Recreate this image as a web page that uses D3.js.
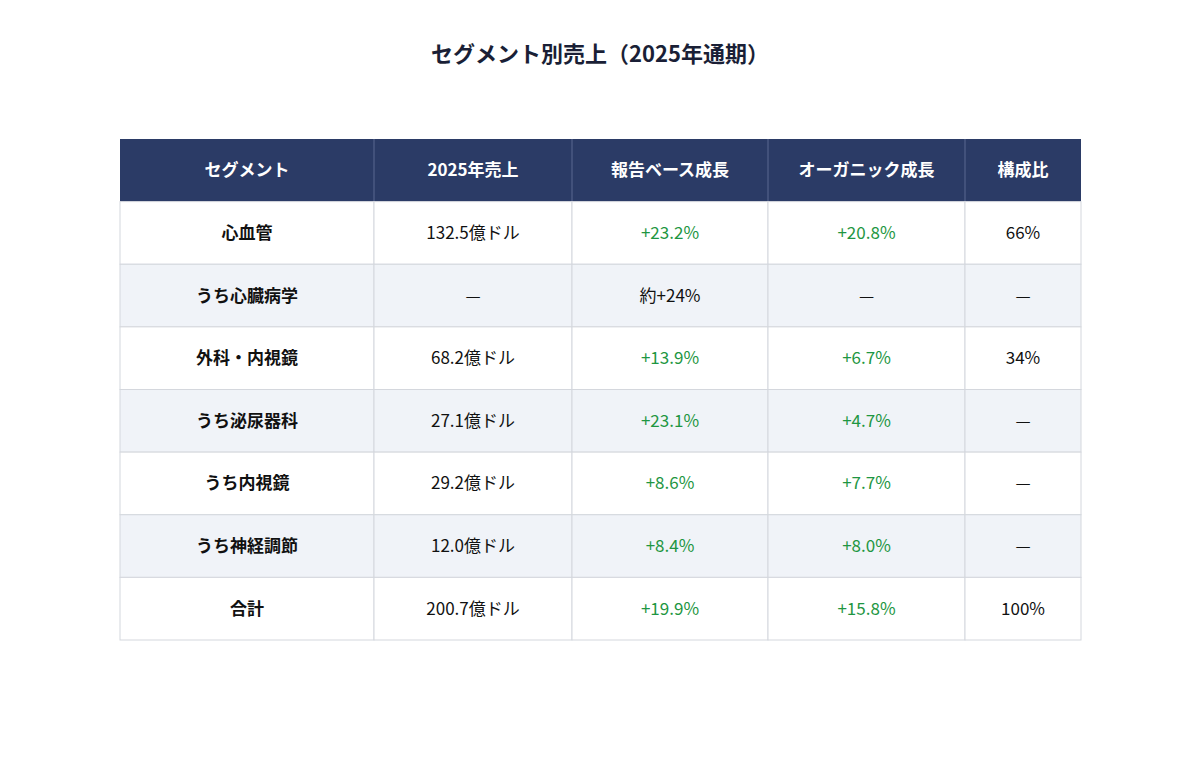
<!DOCTYPE html>
<html><head><meta charset="utf-8">
<script src="https://cdn.jsdelivr.net/npm/d3@7.9.0/dist/d3.min.js"></script>
<style>body{margin:0;background:#fff;font-family:"Noto Sans CJK JP","Noto Sans",sans-serif;}</style>
</head><body>
<svg id="chart" width="1200" height="779"></svg>
<script>
const headers = ['セグメント', '2025年売上', '報告ベース成長', 'オーガニック成長', '構成比'];
const segments = ['心血管', 'うち心臓病学', '外科・内視鏡', 'うち泌尿器科', 'うち内視鏡', 'うち神経調節', '合計'];
const sales = ['132.5億ドル', '—', '68.2億ドル', '27.1億ドル', '29.2億ドル', '12.0億ドル', '200.7億ドル'];
const reported = ['+23.2%', '約+24%', '+13.9%', '+23.1%', '+8.6%', '+8.4%', '+19.9%'];
const organic = ['+20.8%', '—', '+6.7%', '+4.7%', '+7.7%', '+8.0%', '+15.8%'];
const share = ['66%', '—', '34%', '—', '—', '—', '100%'];
const colEdges = [120, 374, 572, 768, 965, 1081];

const svg = d3.select('#chart');
svg.append('text').attr('x', 600).attr('y', 62).attr('text-anchor', 'middle')
  .attr('font-size', 22).attr('font-weight', 700).attr('fill', '#1a1f36')
  .text('セグメント別売上（2025年通期）');

const rows = segments.map((s, i) => [s, sales[i], reported[i], organic[i], share[i]]);
const y = d3.scaleBand().domain(d3.range(rows.length + 1)).range([139, 640]);
const h = y.bandwidth();

// header
const hg = svg.append('g');
hg.append('rect').attr('x', colEdges[0]).attr('y', y(0)).attr('width', colEdges[5] - colEdges[0]).attr('height', h).attr('fill', '#2b3b66');
headers.forEach((t, j) => {
  if (j > 0) hg.append('line').attr('x1', colEdges[j]).attr('x2', colEdges[j]).attr('y1', y(0)).attr('y2', y(0) + h).attr('stroke', '#5a6890');
  hg.append('text').attr('x', (colEdges[j] + colEdges[j + 1]) / 2).attr('y', y(0) + h / 2 + 6)
    .attr('text-anchor', 'middle').attr('font-size', 17).attr('font-weight', 700).attr('fill', '#fff').text(t);
});

rows.forEach((r, i) => {
  const yy = y(i + 1);
  r.forEach((v, j) => {
    svg.append('rect').attr('x', colEdges[j]).attr('y', yy).attr('width', colEdges[j + 1] - colEdges[j]).attr('height', h)
      .attr('fill', i % 2 ? '#f0f3f8' : '#fff').attr('stroke', '#d4d7dd');
    const green = (j === 2 || j === 3) && v.startsWith('+');
    svg.append('text').attr('x', (colEdges[j] + colEdges[j + 1]) / 2).attr('y', yy + h / 2 + 6)
      .attr('text-anchor', 'middle').attr('font-size', 17).attr('font-weight', j === 0 ? 700 : 400)
      .attr('fill', green ? '#1e9642' : '#111').text(v);
  });
});
</script>
</body></html>
